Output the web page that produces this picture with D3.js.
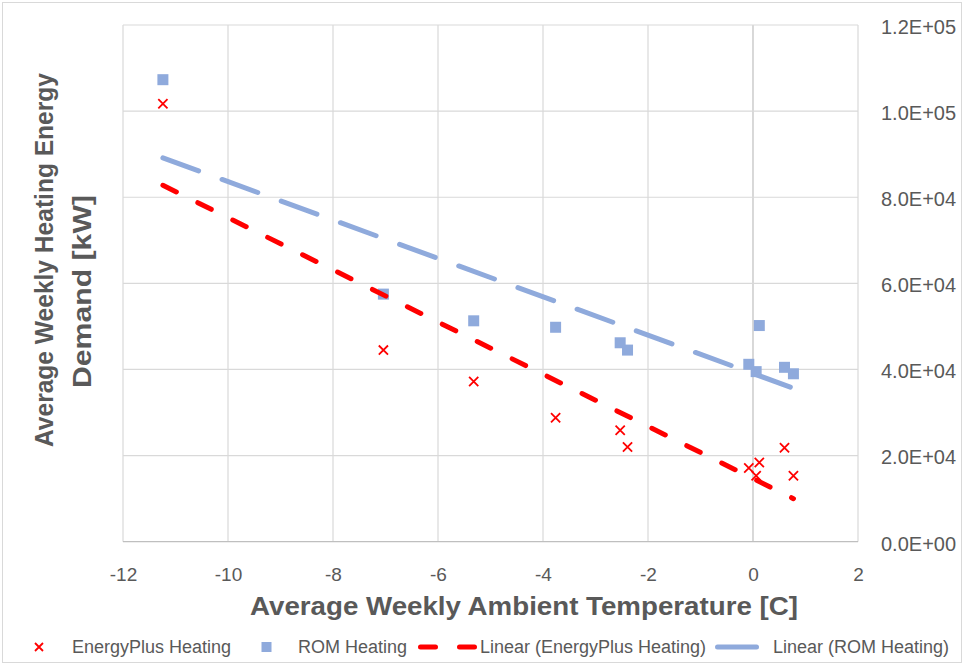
<!DOCTYPE html>
<html>
<head>
<meta charset="utf-8">
<script src="https://cdn.jsdelivr.net/npm/d3@7"></script>
<style>
  body { margin: 0; background: #fff; }
  text { font-family: "Liberation Sans", Arial, sans-serif; fill: #595959; }
</style>
</head>
<body>
<div id="chart"></div>
<script>
// Weekly temperatures [C] and heating demand [kW]
const temps = [-11.24, -7.04, -5.32, -3.76, -2.53, -2.39, -0.08, 0.06, 0.12, 0.60, 0.77];
const energyPlus = [101700, 44500, 37200, 28800, 25900, 22000, 17100, 15300, 18400, 21800, 15300];
const rom = [107300, 57500, 51300, 49800, 46200, 44500, 41200, 39500, 50200, 40500, 39000];
const xTicks = [-12, -10, -8, -6, -4, -2, 0, 2];
const yTicks = [0, 20000, 40000, 60000, 80000, 100000, 120000];
const legendLabels = ['EnergyPlus Heating', 'ROM Heating', 'Linear (EnergyPlus Heating)', 'Linear (ROM Heating)'];

const W = 964, H = 665;
const plotL = 123, plotR = 858, plotT = 25, plotB = 541.7;
const red = '#ff0000', blue = '#8faadc', grid = '#d9d9d9';

const svg = d3.select('#chart').append('svg').attr('width', W).attr('height', H);

// outer chart border
svg.append('rect').attr('x', 2.5).attr('y', 2.5).attr('width', 959).attr('height', 660)
    .attr('fill', 'none').attr('stroke', grid);

const x = d3.scaleLinear().domain([-12, 2]).range([plotL, plotR]);
const y = d3.scaleLinear().domain([0, 120000]).range([plotB, plotT]);

function sci(d) {
    const parts = d.toExponential(1).split('e');
    const e = +parts[1];
    return parts[0] + 'E' + (e < 0 ? '-' : '+') + String(Math.abs(e)).padStart(2, '0');
}

// gridlines
svg.append('g').selectAll('line').data(xTicks).enter().append('line')
    .attr('x1', d => x(d)).attr('x2', d => x(d)).attr('y1', plotT).attr('y2', plotB)
    .attr('stroke', d => d === 0 ? '#bfbfbf' : grid).attr('stroke-width', 1.2);
svg.append('g').selectAll('line').data(yTicks).enter().append('line')
    .attr('x1', plotL).attr('x2', plotR).attr('y1', d => y(d)).attr('y2', d => y(d))
    .attr('stroke', d => d === 0 ? '#bfbfbf' : grid).attr('stroke-width', 1.2);

// axes (labels only)
const xAxis = svg.append('g').attr('transform', `translate(0,${plotB})`)
    .call(d3.axisBottom(x).tickValues(xTicks).tickSize(0).tickFormat(d => String(d)));
xAxis.select('.domain').remove();
xAxis.selectAll('text').attr('font-size', 19).attr('fill', '#595959').attr('font-family', null)
    .attr('dy', '0.35em').attr('y', 574 - plotB);

const yAxis = svg.append('g').attr('transform', `translate(${plotR},0)`)
    .call(d3.axisRight(y).tickValues(yTicks).tickSize(0).tickPadding(23).tickFormat(sci));
yAxis.select('.domain').remove();
yAxis.selectAll('text').attr('font-size', 20).attr('fill', '#595959').attr('font-family', null).attr('dy', '0.42em');

// axis titles
svg.append('text').attr('x', (250 + 798) / 2).attr('y', 615).attr('text-anchor', 'middle')
    .attr('font-size', 26).attr('font-weight', 'bold')
    .attr('textLength', 548).attr('lengthAdjust', 'spacingAndGlyphs')
    .text('Average Weekly Ambient Temperature [C]');
svg.append('text').attr('transform', 'translate(53,260) rotate(-90)').attr('text-anchor', 'middle')
    .attr('font-size', 26).attr('font-weight', 'bold')
    .attr('textLength', 374).attr('lengthAdjust', 'spacingAndGlyphs')
    .text('Average Weekly Heating Energy');
svg.append('text').attr('transform', 'translate(91,291.5) rotate(-90)').attr('text-anchor', 'middle')
    .attr('font-size', 26).attr('font-weight', 'bold')
    .attr('textLength', 193).attr('lengthAdjust', 'spacingAndGlyphs')
    .text('Demand [kW]');

// markers
const xMark = (g, s) => g.append('path')
    .attr('d', `M${-s},${-s}L${s},${s}M${-s},${s}L${s},${-s}`)
    .attr('stroke', red).attr('stroke-width', 1.8).attr('fill', 'none');

const epPts = temps.map((t, i) => [t, energyPlus[i]]);
const romPts = temps.map((t, i) => [t, rom[i]]);

svg.append('g').selectAll('g').data(epPts).enter().append('g')
    .attr('transform', d => `translate(${x(d[0])},${y(d[1])})`)
    .each(function () { xMark(d3.select(this), 4.6); });

svg.append('g').selectAll('rect').data(romPts).enter().append('rect')
    .attr('x', d => x(d[0]) - 5.5).attr('y', d => y(d[1]) - 5.5)
    .attr('width', 11).attr('height', 11).attr('fill', blue);

// least-squares trendlines
function fit(pts) {
    const mx = d3.mean(pts, d => d[0]), my = d3.mean(pts, d => d[1]);
    const b = d3.sum(pts, d => (d[0] - mx) * (d[1] - my)) / d3.sum(pts, d => (d[0] - mx) ** 2);
    const a = my - b * mx;
    const [x0, x1] = d3.extent(pts, d => d[0]);
    return [[x0, a + b * x0], [x1, a + b * x1]];
}
const line = d3.line().x(d => x(d[0])).y(d => y(d[1]));

svg.append('path').attr('d', line(fit(epPts))).attr('fill', 'none')
    .attr('stroke', red).attr('stroke-width', 5).attr('stroke-linecap', 'round')
    .attr('stroke-dasharray', '15,24');
svg.append('path').attr('d', line(fit(romPts))).attr('fill', 'none')
    .attr('stroke', blue).attr('stroke-width', 5).attr('stroke-linecap', 'round')
    .attr('stroke-dasharray', '38,25');

// legend
const ly = 647;
const leg = svg.append('g');
const lx = leg.append('g').attr('transform', `translate(39,${ly})`);
xMark(lx, 4);
leg.append('rect').attr('x', 261.5).attr('y', ly - 5).attr('width', 10).attr('height', 10).attr('fill', blue);
leg.append('line').attr('x1', 420.5).attr('x2', 477.5).attr('y1', ly).attr('y2', ly)
    .attr('stroke', red).attr('stroke-width', 5).attr('stroke-linecap', 'round').attr('stroke-dasharray', '15,24');
leg.append('line').attr('x1', 717.5).attr('x2', 756.5).attr('y1', ly).attr('y2', ly)
    .attr('stroke', blue).attr('stroke-width', 5).attr('stroke-linecap', 'round');

const legX = [72, 298, 480, 773];
leg.selectAll('text.lg').data(legendLabels).enter().append('text')
    .attr('class', 'lg')
    .attr('x', (d, i) => legX[i]).attr('y', ly).attr('dy', '0.36em')
    .attr('font-size', 18).text(d => d);
</script>
</body>
</html>
